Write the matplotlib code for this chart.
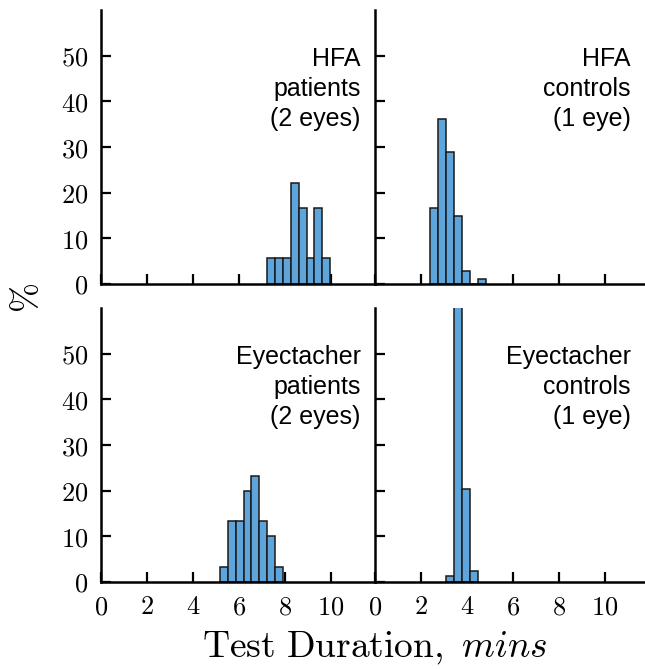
import numpy as np
import matplotlib
matplotlib.use("Agg")
import matplotlib.pyplot as plt

plt.rcParams['mathtext.fontset'] = 'cm'

# bin edges (mins) and bar heights (%)
hfa_pat_edges = [7.2, 7.55, 7.9, 8.24, 8.59, 8.94, 9.28, 9.62, 9.96]
hfa_pat_pct = [5.6, 5.6, 5.6, 22.2, 16.7, 5.6, 16.7, 5.6]

hfa_ctl_edges = [2.39, 2.75, 3.1, 3.45, 3.79, 4.13, 4.47, 4.81]
hfa_ctl_pct = [16.7, 36.1, 28.8, 14.9, 2.8, 0.0, 1.0]

eye_pat_edges = [5.17, 5.51, 5.86, 6.2, 6.54, 6.88, 7.23, 7.57, 7.91]
eye_pat_pct = [3.3, 13.3, 13.3, 20.0, 23.3, 13.3, 10.0, 3.3]

eye_ctl_edges = [3.07, 3.43, 3.78, 4.13, 4.47]
eye_ctl_pct = [1.4, 76.0, 20.3, 2.3]

labels = ["HFA\npatients\n(2 eyes)", "HFA\ncontrols\n(1 eye)",
          "Eyectacher\npatients\n(2 eyes)", "Eyectacher\ncontrols\n(1 eye)"]

xticks = [0, 2, 4, 6, 8, 10]
yticks = [0, 10, 20, 30, 40, 50]

W, H = 645, 669
fig = plt.figure(figsize=(W / 100, H / 100), dpi=100)

# axes boxes in pixels: (left, top, right, bottom)
boxes = [(101, 10, 375, 284), (375, 10, 645, 284),
         (101, 308, 375, 582), (375, 308, 645, 582)]
data = [(hfa_pat_edges, hfa_pat_pct), (hfa_ctl_edges, hfa_ctl_pct),
        (eye_pat_edges, eye_pat_pct), (eye_ctl_edges, eye_ctl_pct)]

px_per_unit = 23.0

for i, (box, (edges, pct), lab) in enumerate(zip(boxes, data, labels)):
    l, t, r, b = box
    ax = fig.add_axes([l / W, 1 - b / H, (r - l) / W, (b - t) / H])
    edges = np.array(edges)
    ax.bar(edges[:-1], pct, width=np.diff(edges), align='edge',
           color='#5DA5DA', edgecolor='#1a1a1a', linewidth=1.1, zorder=2)
    ax.set_xlim(0, (r - l) / px_per_unit)
    ax.set_ylim(0, 60)
    for s in ['top', 'right']:
        ax.spines[s].set_visible(False)
    for s in ['left', 'bottom']:
        ax.spines[s].set_linewidth(1.8)
        ax.spines[s].set_zorder(3)
    ax.tick_params(direction='in', length=7, width=1.6, pad=9, labelsize=19)
    ax.set_xticks(xticks)
    ax.set_yticks(yticks)
    if i >= 2:
        ax.set_xticklabels([f'${v}$' for v in xticks])
    else:
        ax.set_xticklabels([])
    if i % 2 == 0:
        ax.set_yticklabels([f'${v}$' for v in yticks])
    else:
        ax.set_yticklabels([])
    ax.text(0.948, 0.866, lab, transform=ax.transAxes, ha='right', va='top',
            fontsize=18, family='Liberation Sans', linespacing=1.32)

fig.text(0.042, 1 - 298 / H, r'$\%$', rotation=90, ha='center', va='center',
         fontsize=26)
fig.text(375 / W, 1 - 648 / H, r'$\mathrm{Test\ Duration,}\ \mathit{mins}$',
         ha='center', va='center', fontsize=27)

fig.savefig('out.png', dpi=100)
